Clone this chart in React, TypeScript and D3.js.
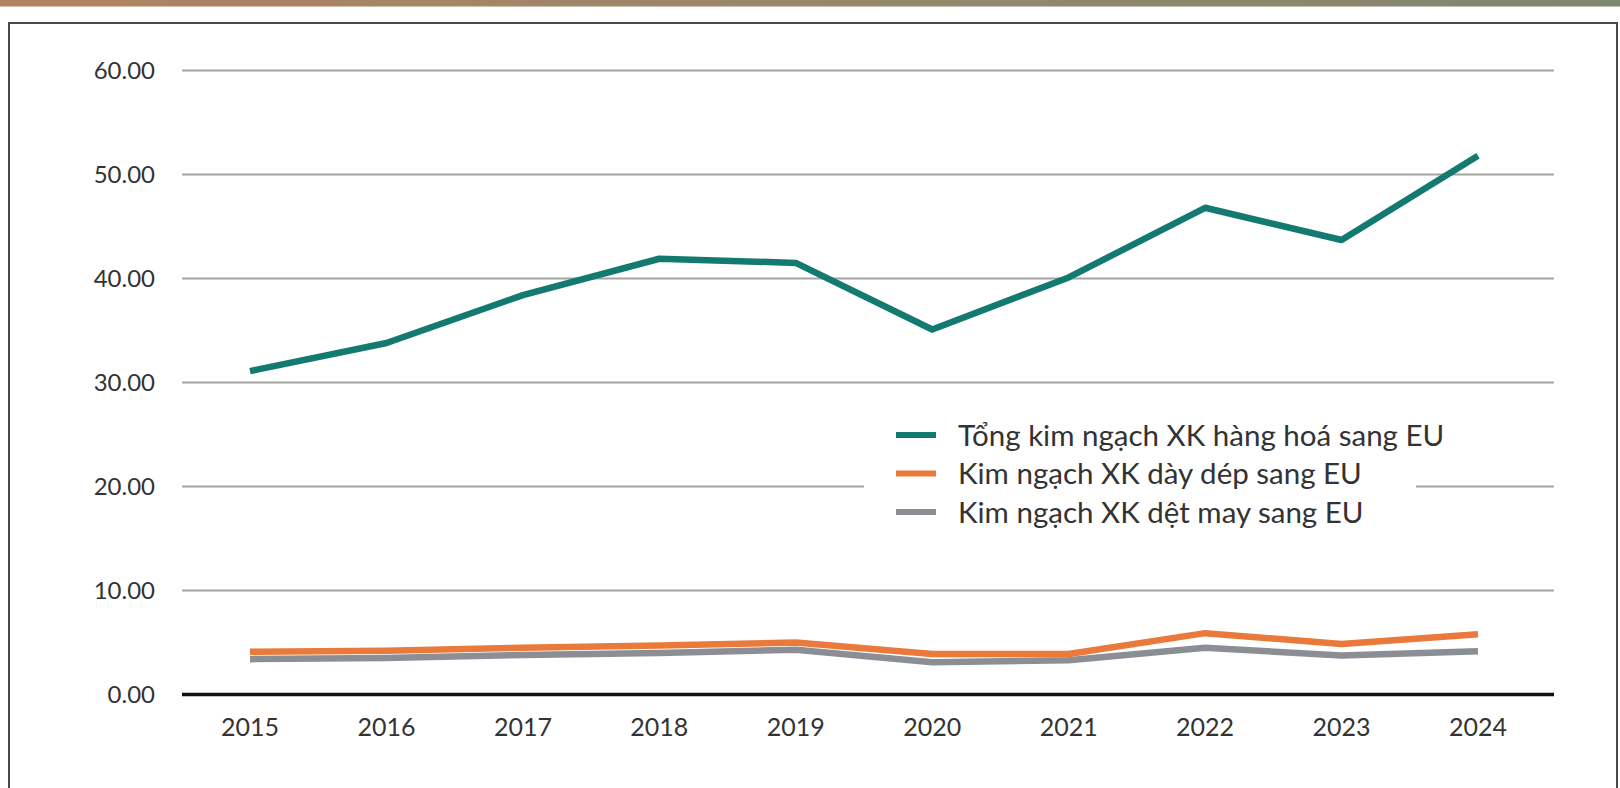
import React, {useEffect, useRef} from 'react';
import * as d3 from 'd3';

const years = ['2015', '2016', '2017', '2018', '2019', '2020', '2021', '2022', '2023', '2024'];
const totalEU = [31.1, 33.8, 38.4, 41.9, 41.5, 35.1, 40.1, 46.8, 43.7, 51.8];
const footwearEU = [4.1, 4.2, 4.5, 4.7, 5.0, 3.9, 3.9, 5.9, 4.85, 5.8];
const textileEU = [3.4, 3.5, 3.8, 4.0, 4.3, 3.1, 3.3, 4.5, 3.75, 4.15];
const yTicks = [0, 10, 20, 30, 40, 50, 60];
const seriesNames = [
    'Tổng kim ngạch XK hàng hoá sang EU',
    'Kim ngạch XK dày dép sang EU',
    'Kim ngạch XK dệt may sang EU'
];

const colours = ['#137a71', '#e97a3b', '#8b8f95'];
const font = 'Lato, "Noto Sans", sans-serif';

const App = () => {
    const ref = useRef<SVGSVGElement>(null);

    useEffect(() => {
        const svg = d3.select(ref.current);
        svg.selectAll('*').remove();

        // top strip
        const grad = svg.append('defs').append('linearGradient')
            .attr('id', 'strip').attr('x1', '0').attr('x2', '1');
        grad.append('stop').attr('offset', '0').attr('stop-color', '#b3835f');
        grad.append('stop').attr('offset', '0.5').attr('stop-color', '#98876a');
        grad.append('stop').attr('offset', '1').attr('stop-color', '#7f876f');
        svg.append('rect').attr('x', 0).attr('y', 0).attr('width', 1620).attr('height', 6.5)
            .attr('fill', 'url(#strip)');

        // frame
        svg.append('rect')
            .attr('x', 9).attr('y', 23).attr('width', 1608).attr('height', 800)
            .attr('fill', 'none').attr('stroke', '#4a4a4a').attr('stroke-width', 2);

        const left = 182, right = 1554;
        const yScale = d3.scaleLinear().domain([0, 60]).range([694.5, 70.5]);
        const xScale = d3.scalePoint().domain(years).range([250, 1478]);

        // grid lines
        svg.append('g')
            .selectAll('line')
            .data(yTicks.filter(t => t > 0))
            .enter()
            .append('line')
            .attr('x1', left).attr('x2', right)
            .attr('y1', d => yScale(d)).attr('y2', d => yScale(d))
            .attr('stroke', '#a3a3a3').attr('stroke-width', 2);

        // y labels
        svg.append('g')
            .selectAll('text')
            .data(yTicks)
            .enter()
            .append('text')
            .attr('x', 155)
            .attr('y', d => yScale(d) + 8)
            .attr('text-anchor', 'end')
            .attr('font-family', font).attr('font-size', 24).attr('fill', '#333')
            .text(d => d3.format('.2f')(d));

        // x axis
        svg.append('line')
            .attr('x1', left).attr('x2', right)
            .attr('y1', yScale(0)).attr('y2', yScale(0))
            .attr('stroke', '#111').attr('stroke-width', 3.5);

        svg.append('g')
            .selectAll('text')
            .data(years)
            .enter()
            .append('text')
            .attr('x', d => xScale(d)!)
            .attr('y', 736)
            .attr('text-anchor', 'middle')
            .attr('font-family', font).attr('font-size', 25).attr('fill', '#333')
            .text(d => d);

        // legend box hides part of the grid
        svg.append('rect')
            .attr('x', 864).attr('y', 398).attr('width', 552).attr('height', 135)
            .attr('fill', '#fff');

        const line = d3.line<number>()
            .x((d, i) => xScale(years[i])!)
            .y(d => yScale(d));

        [textileEU, footwearEU, totalEU].forEach((vals, k) => {
            const idx = 2 - k;
            svg.append('path')
                .attr('d', line(vals))
                .attr('fill', 'none')
                .attr('stroke', colours[idx])
                .attr('stroke-width', 6.5)
                .attr('stroke-linejoin', 'round');
        });

        const legend = svg.append('g')
            .selectAll('g')
            .data(seriesNames)
            .enter()
            .append('g')
            .attr('transform', (d, i) => `translate(896, ${435 + i * 38.5})`);

        legend.append('line')
            .attr('x1', 0).attr('x2', 40)
            .attr('stroke', (d, i) => colours[i])
            .attr('stroke-width', 6);

        legend.append('text')
            .attr('x', 62).attr('y', 10.5)
            .attr('font-family', font).attr('font-size', 29.5).attr('fill', '#333')
            .text(d => d);
    }, []);

    return (
        <svg ref={ref} width={1620} height={788}
             style={{position: 'absolute', left: 0, top: 0, display: 'block', background: '#fff'}}/>
    );
};

export default App;
